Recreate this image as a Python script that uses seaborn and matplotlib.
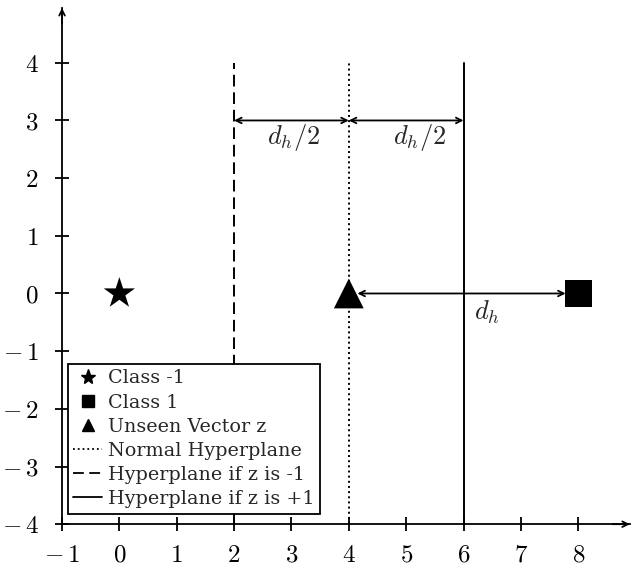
import numpy as np
import matplotlib
matplotlib.use("Agg")
import matplotlib.pyplot as plt
import seaborn as sns
from matplotlib.lines import Line2D

sns.set_style("white")
plt.rcParams["mathtext.fontset"] = "cm"
plt.rcParams["font.family"] = ["DejaVu Serif"]

# data
class_neg = (0, 0)
class_pos = (8, 0)
unseen = (4, 0)
hyper_x = [2, 4, 6]          # dashed (z=-1), normal, solid (z=+1)
hyper_styles = [(0, (6, 3)), ":", "-"]
xticks = list(range(-1, 9))
yticks = list(range(-4, 5))


def tick_fmt(t):
    return rf"$-\,{abs(t)}$" if t < 0 else f"${t}$"


fig = plt.figure(figsize=(6.33, 5.71), dpi=100)
ax = fig.add_axes([0.098, 0.082, 0.897, 0.904])

for x, ls in zip(hyper_x, hyper_styles):
    ax.plot([x, x], [-4, 4], color="black", linestyle=ls, lw=1.4, zorder=1)

sns.scatterplot(x=[class_neg[0]], y=[class_neg[1]], marker="*", s=560, color="black",
                edgecolor="none", ax=ax, zorder=3)
sns.scatterplot(x=[class_pos[0]], y=[class_pos[1]], marker="s", s=370, color="black",
                edgecolor="none", ax=ax, zorder=3)
sns.scatterplot(x=[unseen[0]], y=[unseen[1]], marker="^", s=460, color="black",
                edgecolor="none", ax=ax, zorder=3)

arrow = dict(arrowstyle="<->", color="black", lw=1.3, shrinkA=0, shrinkB=0)
ax.annotate("", xy=(2, 3), xytext=(4, 3), arrowprops=arrow)
ax.annotate("", xy=(4, 3), xytext=(6, 3), arrowprops=arrow)
ax.annotate("", xy=(4.15, 0), xytext=(7.78, 0), arrowprops=arrow)
ax.text(3.04, 2.7, r"$d_h/2$", fontsize=19, ha="center", va="center")
ax.text(5.23, 2.7, r"$d_h/2$", fontsize=19, ha="center", va="center")
ax.text(6.4, -0.33, r"$d_h$", fontsize=19, ha="center", va="center")

ax.set_xlim(-1, 8.9)
ax.set_ylim(-4, 4.95)
ax.set_xticks(xticks)
ax.set_yticks(yticks)
ax.set_xticklabels([tick_fmt(t) for t in xticks], fontsize=18)
ax.set_yticklabels([tick_fmt(t) for t in yticks], fontsize=18)
ax.tick_params(direction="inout", length=10, width=1.3, colors="black")
ax.tick_params(axis="x", bottom=True, pad=9)
ax.tick_params(axis="y", left=True, pad=12)
for s in ["top", "right"]:
    ax.spines[s].set_visible(False)
for s in ["left", "bottom"]:
    ax.spines[s].set_linewidth(1.3)
    ax.spines[s].set_color("black")
spine_arrow = dict(arrowstyle="->", color="black", lw=1.3, shrinkA=0, shrinkB=0)
ax.annotate("", xy=(1, 0), xytext=(0.97, 0), xycoords="axes fraction",
            textcoords="axes fraction", arrowprops=spine_arrow, annotation_clip=False)
ax.annotate("", xy=(0, 1), xytext=(0, 0.97), xycoords="axes fraction",
            textcoords="axes fraction", arrowprops=spine_arrow, annotation_clip=False)

handles = [
    Line2D([], [], marker="*", color="black", linestyle="none", markersize=11),
    Line2D([], [], marker="s", color="black", linestyle="none", markersize=8),
    Line2D([], [], marker="^", color="black", linestyle="none", markersize=8),
    Line2D([], [], color="black", linestyle=":", lw=1.3),
    Line2D([], [], color="black", linestyle=(0, (6, 3)), lw=1.3),
    Line2D([], [], color="black", linestyle="-", lw=1.3),
]
labels = ["Class -1", "Class 1", "Unseen Vector z", "Normal Hyperplane",
          "Hyperplane if z is -1", "Hyperplane if z is +1"]
leg = ax.legend(handles, labels, loc="lower left", bbox_to_anchor=(0.01, 0.02),
                fontsize=13.8, frameon=True, fancybox=False, framealpha=1,
                edgecolor="black", handlelength=1.5, handletextpad=0.3,
                labelspacing=0.32, borderpad=0.3, borderaxespad=0)
leg.get_frame().set_linewidth(1.3)

fig.savefig("out.png", dpi=100)
